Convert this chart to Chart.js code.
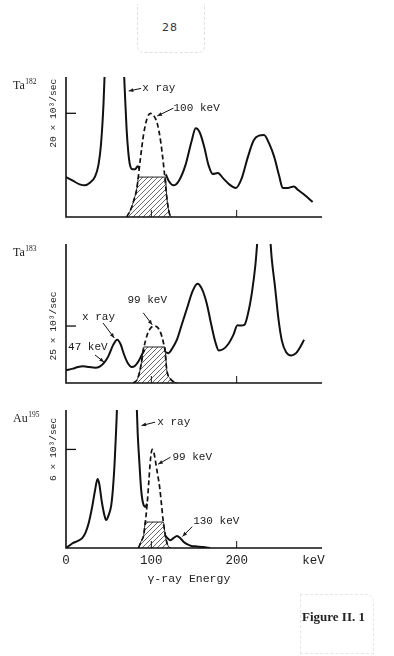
<!DOCTYPE html>
<html><head><meta charset="utf-8">
<script src="https://cdn.jsdelivr.net/npm/chart.js@4.4.1/dist/chart.umd.min.js"></script>
<style>
html,body{margin:0;padding:0;background:#fff;}
body{width:394px;height:656px;position:relative;overflow:hidden;}
canvas{position:absolute;left:0;}
#pagebox{position:absolute;left:137px;top:4px;width:66px;height:48px;border:1px dashed #e0e0e0;border-top:none;border-radius:0 0 7px 7px;}
#page{position:absolute;left:137px;top:21px;width:66px;text-align:center;font:11px "DejaVu Sans",sans-serif;color:#333;letter-spacing:1px;}
#figbox{position:absolute;left:300px;top:594px;width:72px;height:58px;border:1px dashed #e6e6e6;border-radius:0 8px 0 0;}
#fig{position:absolute;left:302px;top:609px;font:bold 13px "Liberation Serif",serif;color:#222;}
</style></head>
<body>
<div id="pagebox"></div>
<div id="page">28</div>
<canvas id="c1" width="394" height="170" style="top:60px"></canvas>
<canvas id="c2" width="394" height="170" style="top:230px"></canvas>
<canvas id="c3" width="394" height="200" style="top:400px"></canvas>
<div id="figbox"></div>
<div id="fig">Figure II. 1</div>
<script>
// ---------- data (energy in keV, counts in 10^3/sec) ----------
// Ta182
const p1Energy = [0,8,16,22,28,34,38,41,44,47,52,60,66,69,71,73,75,78,81,84,86,100,117,121,126,132,140,147,152,157,162,167,172,178,184,192,199,206,213,220,226,232,238,244,250,254,260,267,272,280,289];
const p1Counts = [7.7,7.0,6.3,6.1,6.6,7.8,10,14,22,35,50,50,35,24,17,12.5,10,9.2,9.2,9.8,9.3,null,8.2,6.8,6.1,6.9,10,14.5,17.1,16.2,13.5,10,8.3,8.5,7.5,6.2,5.6,7.5,11.5,14.8,15.7,15.8,14.2,11.6,7.8,5.6,5.6,5.9,5.2,4.2,2.9];
const p1PeakEnergy = [71,76,80,83,87,91,95,99,103,107,111,115,118,121,124];
const p1PeakCounts = [0,1.5,3.5,5.5,11,16,19,20,19.5,18,14.5,9,4,0.8,0];
const p1HatchEnergy = [71,76,80,83,85,116.5,118,121,124];
const p1HatchCounts = [0,1.5,3.5,5.5,7.7,7.7,4,0.8,0];
// Ta183
const p2Energy = [0,8,14,20,27,34,40,45,50,55,60,64,68,72,77,81,85,89,92,100,117,120,125,130,136,142,148,154,159,165,170,175,179,184,190,196,201,205,209,213,218,222,226,232,238,241,245,249,253,258,264,269,274,279];
const p2Counts = [5.6,6.3,7.0,7.3,7.0,6.7,7.3,9.0,12,16.5,19,17,12.5,9,7.0,7.6,9.5,12.5,14.5,null,13.5,13.1,15.5,19,26,33,40,43.6,41.5,34.8,26,18,14.3,14.8,17,21,25.3,25.2,25.5,30,40,52,70,85,70,55,42,28,18.5,13.5,12.1,12.9,15.5,19];
const p2PeakEnergy = [79,84,88,91,95,99,103,107,111,114,116,118,122,126,130];
const p2PeakCounts = [0,2,8,15,21,24,25,24.5,22,18,14,6,2,0.6,0];
const p2HatchEnergy = [79,84,88,91,116,118,122,126,130];
const p2HatchCounts = [0,2,8,15.8,15.8,6,2,0.6,0];
// Au195
const p3Energy = [0,4,8,14,19,23,27,31,34,37,39,42,45,47,50,53,55,57,59,61,70,80,82,84,86,88,90,93,95,100,116,119,122,126,130,134,138,143,147,152,157,163,169];
const p3Counts = [0,0.15,0.3,0.43,0.6,0.95,1.6,2.6,3.5,4.2,3.9,2.8,2.0,1.7,2.0,2.6,3.6,5.2,7.5,10,14,12,10,7,5.2,3.6,2.8,2.5,2.7,null,0.77,0.6,0.47,0.6,0.73,0.6,0.37,0.2,0.12,0.1,0.08,0.04,0];
const p3PeakEnergy = [85,88,91,93,95,97,99,101,103,106,110,112,114,116,118,120,122];
const p3PeakCounts = [0,0.4,0.77,1.6,2.6,4,5.4,6.0,5.8,4.9,3.6,2.6,1.6,0.9,0.37,0.1,0];
const p3HatchEnergy = [85,88,91,93,114,116,118,120,122];
const p3HatchCounts = [0,0.4,0.77,1.58,1.58,0.9,0.37,0.1,0];

const xTickValues = [0,100,200,290];
const xTickLabels = ['0','100','200','keV'];
const xAxisTitle = 'γ-ray Energy';
const panelNames = [['Ta','182'],['Ta','183'],['Au','195']];
const yTickValues = [20,25,6];
const yTitles = ['20 × 10³/sec','25 × 10³/sec','6 × 10³/sec'];
const yMaxValues = [27,61,8.4];

// annotations: text anchor and arrow (from -> to) in data units
const p1Notes = [
  {text:'x ray', at:[89.5,24.8], from:[88,24.8], to:[73.5,24.3]},
  {text:'100 keV', at:[126,21], from:[126,21], to:[107,19.5]}
];
const p2Notes = [
  {text:'99 keV', at:[72,36.4], from:[90.5,30.8], to:[101,25.6]},
  {text:'x ray', at:[18.8,29], from:[43.5,26.3], to:[56.5,19.8]},
  {text:'47 keV', at:[2.4,15.8], from:[34,12.3], to:[44.5,9.2]}
];
const p3Notes = [
  {text:'x ray', at:[107,7.66], from:[104.5,7.66], to:[88.5,7.45]},
  {text:'99 keV', at:[124.7,5.53], from:[122.5,5.53], to:[108,5.1]},
  {text:'130 keV', at:[149,1.64], from:[148,1.3], to:[136.5,0.7]}
];

// ---------- helpers ----------
function pts(e,c){ return e.map((v,i)=>({x:v,y:c[i]})); }
function makeHatch(){
  const c=document.createElement('canvas'); c.width=c.height=5;
  const g=c.getContext('2d'); g.strokeStyle='#3a3a3a'; g.lineWidth=0.75;
  g.beginPath(); g.moveTo(0,5); g.lineTo(5,0); g.moveTo(-1,1); g.lineTo(1,-1); g.moveTo(4,6); g.lineTo(6,4); g.stroke();
  return document.createElement('canvas').getContext('2d').createPattern(c,'repeat');
}
const hatch = makeHatch();
const MONO = '"Liberation Mono", "DejaVu Sans Mono", monospace';

const figurePlugin = {
  id:'figure',
  afterDraw(chart, args, o){
    const {ctx, chartArea:a, scales:{x,y}} = chart;
    ctx.save();
    ctx.strokeStyle='#111'; ctx.fillStyle='#111'; ctx.lineCap='butt';
    // axes
    ctx.lineWidth=1.6;
    ctx.beginPath(); ctx.moveTo(a.left,a.top); ctx.lineTo(a.left,a.bottom); ctx.lineTo(a.right,a.bottom); ctx.stroke();
    // y tick
    const ty=y.getPixelForValue(o.yTick);
    ctx.lineWidth=1.3;
    ctx.beginPath(); ctx.moveTo(a.left,ty); ctx.lineTo(a.left+10,ty); ctx.stroke();
    // x ticks
    ctx.lineWidth=1;
    ctx.beginPath();
    for(const v of [100,200]){ const px=x.getPixelForValue(v); ctx.moveTo(px,a.bottom); ctx.lineTo(px,a.bottom-7); }
    ctx.stroke();
    // y title
    ctx.save();
    ctx.translate(a.left-13, ty); ctx.rotate(-Math.PI/2);
    ctx.font='9.6px '+MONO; ctx.textAlign='center'; ctx.textBaseline='middle';
    ctx.fillStyle='#222'; ctx.fillText(o.yTitle,0,0);
    ctx.restore();
    // panel name
    ctx.textAlign='left'; ctx.textBaseline='middle'; ctx.fillStyle='#222';
    ctx.font='12px "Liberation Serif", serif';
    ctx.fillText(o.name[0],13,a.top+9);
    const w=ctx.measureText(o.name[0]).width;
    ctx.font='7.5px "Liberation Serif", serif';
    ctx.fillText(o.name[1],13+w+0.5,a.top+5);
    // notes
    ctx.font='11px '+MONO; ctx.fillStyle='#1a1a1a';
    for(const n of o.notes){
      ctx.fillText(n.text, x.getPixelForValue(n.at[0]), y.getPixelForValue(n.at[1]));
      const x1=x.getPixelForValue(n.from[0]), y1=y.getPixelForValue(n.from[1]);
      const x2=x.getPixelForValue(n.to[0]), y2=y.getPixelForValue(n.to[1]);
      ctx.lineWidth=1; ctx.beginPath(); ctx.moveTo(x1,y1); ctx.lineTo(x2,y2); ctx.stroke();
      const ang=Math.atan2(y2-y1,x2-x1), L=5, W=0.4;
      ctx.beginPath(); ctx.moveTo(x2,y2);
      ctx.lineTo(x2-L*Math.cos(ang-W), y2-L*Math.sin(ang-W));
      ctx.lineTo(x2-L*Math.cos(ang+W), y2-L*Math.sin(ang+W));
      ctx.closePath(); ctx.fill();
    }
    // x tick labels and title (bottom panel only)
    if(o.xLabels){
      ctx.font='12.5px '+MONO; ctx.textAlign='center'; ctx.fillStyle='#222';
      xTickValues.forEach((v,i)=>ctx.fillText(xTickLabels[i], x.getPixelForValue(v), a.bottom+13));
      ctx.font='11.5px '+MONO;
      ctx.fillText(xAxisTitle, x.getPixelForValue(144), a.bottom+31);
    }
    ctx.restore();
  }
};

function makePanel(id, pad, idx, E, C, PE, PC, HE, HC, notes, xLabels){
  new Chart(document.getElementById(id), {
    type:'line',
    data:{datasets:[
      {data:pts(HE,HC), borderColor:'#222', borderWidth:1, fill:'origin', backgroundColor:hatch, cubicInterpolationMode:'monotone', pointRadius:0, order:3},
      {data:pts(PE,PC), borderColor:'#111', borderWidth:1.7, borderDash:[5,3], fill:false, cubicInterpolationMode:'monotone', pointRadius:0, order:2},
      {data:pts(E,C), borderColor:'#111', borderWidth:2, fill:false, spanGaps:false, cubicInterpolationMode:'monotone', pointRadius:0, order:1}
    ]},
    options:{
      responsive:false, animation:false, devicePixelRatio:1,
      layout:{padding:pad},
      plugins:{legend:{display:false}, tooltip:{enabled:false},
        figure:{yTick:yTickValues[idx], yTitle:yTitles[idx], name:panelNames[idx], notes:notes, xLabels:xLabels}},
      scales:{
        x:{type:'linear', min:0, max:300, display:false},
        y:{min:0, max:yMaxValues[idx], display:false}
      }
    },
    plugins:[figurePlugin]
  });
}

makePanel('c1',{left:66,right:72,top:17,bottom:13},0,p1Energy,p1Counts,p1PeakEnergy,p1PeakCounts,p1HatchEnergy,p1HatchCounts,p1Notes,false);
makePanel('c2',{left:66,right:72,top:14,bottom:17},1,p2Energy,p2Counts,p2PeakEnergy,p2PeakCounts,p2HatchEnergy,p2HatchCounts,p2Notes,false);
makePanel('c3',{left:66,right:72,top:10,bottom:52},2,p3Energy,p3Counts,p3PeakEnergy,p3PeakCounts,p3HatchEnergy,p3HatchCounts,p3Notes,true);
</script>
</body></html>
